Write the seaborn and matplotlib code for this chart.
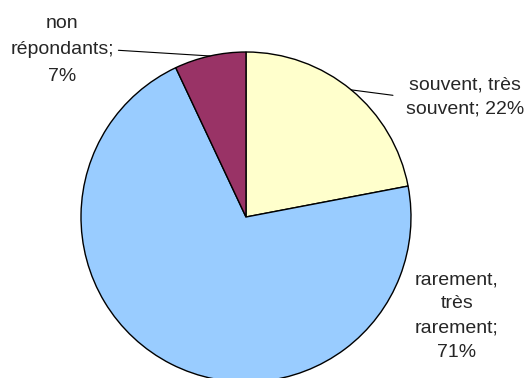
import numpy as np
import matplotlib
matplotlib.use("Agg")
import matplotlib.pyplot as plt
import seaborn as sns

# Survey answers and their shares (percent)
categories = ["souvent, très souvent", "rarement, très rarement", "non répondants"]
shares = [22, 71, 7]
label_texts = ["souvent, très\nsouvent; {}%", "rarement,\ntrès\nrarement;\n{}%", "non\nrépondants;\n{}%"]
colors = ["#FFFFCC", "#99CCFF", "#993366"]

sns.set_style("white")
plt.rcParams["font.family"] = ["Liberation Sans", "DejaVu Sans"]

W, H = 528, 378
fig = plt.figure(figsize=(W / 100, H / 100), dpi=100)
ax = fig.add_axes([0, 0, 1, 1])

cx, cy, r = 246, H - 217, 165
wedges, _ = ax.pie(shares, colors=colors, startangle=90, counterclock=False,
                   center=(cx, cy), radius=r,
                   wedgeprops=dict(edgecolor="black", linewidth=1.0))
ax.set_xlim(0, W)
ax.set_ylim(0, H)
ax.set_aspect("equal")
ax.axis("off")

# label placement: (text centre, line spacing, leader anchor on text box, leader gap)
placements = [((465, H - 97), 1.58, (0, 0.5), 7.0),
              ((457, H - 316), 1.55, None, None),
              ((62, H - 50), 1.7, (1, 0.5), 1.0)]

for w, share, tmpl, (pos, lsp, rel, gap) in zip(wedges, shares, label_texts, placements):
    ang = np.deg2rad((w.theta1 + w.theta2) / 2)
    edge = (cx + r * np.cos(ang), cy + r * np.sin(ang))
    txt = tmpl.format(share)
    if rel is not None:
        ax.annotate(txt, xy=edge, xytext=pos, ha="center", va="center",
                    fontsize=14, linespacing=lsp, multialignment="center",
                    arrowprops=dict(arrowstyle="-", color="black", lw=0.8,
                                    relpos=rel, shrinkA=gap, shrinkB=0))
    else:
        ax.text(pos[0], pos[1], txt, ha="center", va="center", fontsize=14,
                linespacing=lsp, multialignment="center")

fig.savefig("out.png", dpi=100)
